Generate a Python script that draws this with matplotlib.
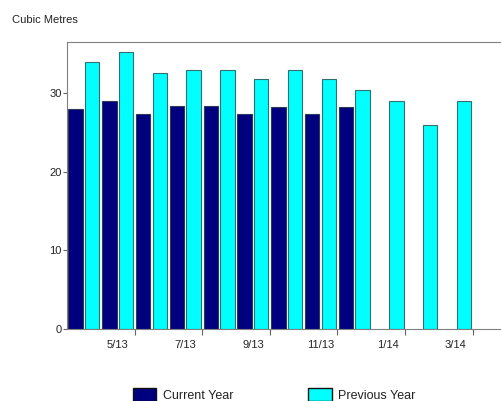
import matplotlib.pyplot as plt
import numpy as np
from matplotlib.patches import Patch

plt.rcParams['font.family'] = ['Liberation Sans', 'DejaVu Sans']

months = ['4/13', '5/13', '6/13', '7/13', '8/13', '9/13',
          '10/13', '11/13', '12/13', '1/14', '2/14', '3/14']
current_year = [28.0, 29.0, 27.4, 28.3, 28.3, 27.3, 28.2, 27.3, 28.2]
previous_year = [34.0, 35.2, 32.6, 33.0, 33.0, 31.8, 33.0, 31.8, 30.4, 29.0, 26.0, 29.0]
y_ticks = [0, 10, 20, 30]

fig = plt.figure(figsize=(5.02, 4.01), dpi=100)
ax = fig.add_axes([67 / 502, 72 / 401, 0.87, 287 / 401])

x = np.arange(len(months))
w = 0.43
ax.bar(x[:len(current_year)] - 0.245, current_year, width=w, color='#00007f',
       edgecolor='#2b3a5a', linewidth=0.8)
ax.bar(x + 0.245, previous_year, width=w, color='#00ffff',
       edgecolor='#2f7070', linewidth=0.8)

ax.set_xlim(-0.5, -0.5 + 0.87 * 502 / 33.8)
ax.set_ylim(0, 36.5)

# tick marks between every other month, labels centred on the month
ax.set_xticks(np.arange(1.5, 12, 2))
ax.set_xticklabels([])
ax.set_xticks(x[1::2], minor=True)
ax.set_xticklabels(months[1::2], minor=True)
ax.tick_params(axis='x', which='major', length=4, direction='out', color='#666666')
ax.tick_params(axis='x', which='minor', length=0, pad=8, labelsize=8, labelcolor='#222222')

ax.set_yticks(y_ticks)
ax.tick_params(axis='y', length=3, direction='out', pad=1, labelsize=8,
               labelcolor='#222222', color='#666666')

for s in ['top', 'left', 'bottom']:
    ax.spines[s].set_color('#808080')
ax.spines['right'].set_visible(False)

fig.text(12 / 502, 1 - 20 / 401, 'Cubic Metres', fontsize=8, color='#222222', va='center')

handles = [Patch(facecolor='#00007f', edgecolor='#111111', label='Current Year'),
           Patch(facecolor='#00ffff', edgecolor='#111111', label='Previous Year')]
fig.legend(handles=handles, ncol=2, loc='center', bbox_to_anchor=(274 / 502, 1 - 395 / 401),
           frameon=False, fontsize=9, handlelength=1.9, handleheight=1.2,
           columnspacing=6.0, handletextpad=0.5, labelcolor='#222222',
           borderpad=0, borderaxespad=0)

fig.savefig('out.png', dpi=100)
